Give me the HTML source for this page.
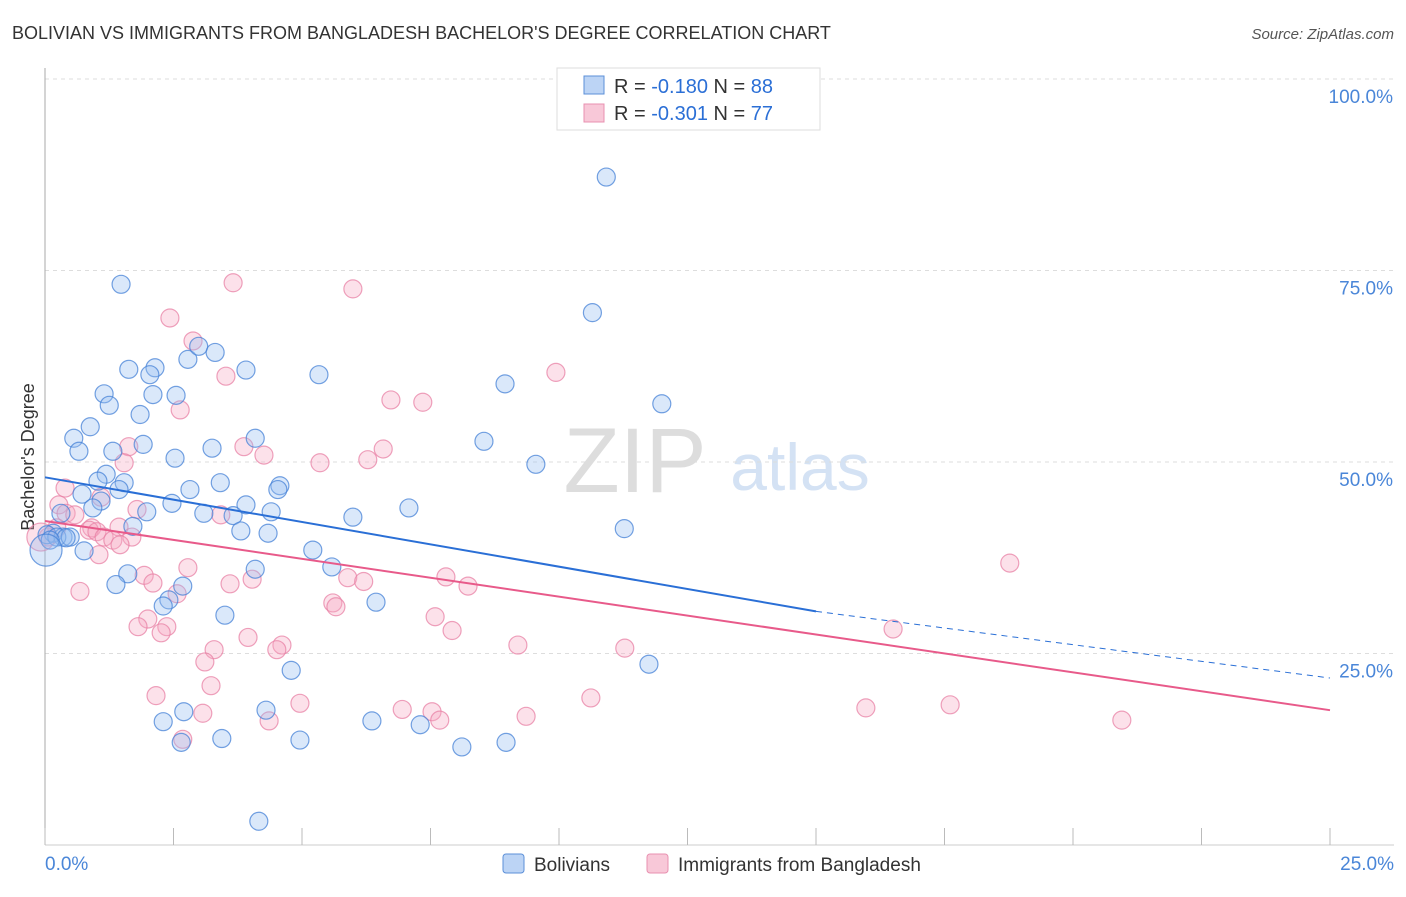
<!DOCTYPE html>
<html><head><meta charset="utf-8"><style>
body{margin:0;background:#fff;font-family:"Liberation Sans",sans-serif}
svg text{font-family:"Liberation Sans",sans-serif}
</style></head><body>
<svg id="c" width="1406" height="892">
<text x="12" y="39" font-size="18" fill="#333">BOLIVIAN VS IMMIGRANTS FROM BANGLADESH BACHELOR'S DEGREE CORRELATION CHART</text>
<text x="1394" y="39" font-size="15" fill="#555" font-style="italic" text-anchor="end">Source: ZipAtlas.com</text>
<text x="34" y="457" font-size="18" fill="#333" text-anchor="middle" transform="rotate(-90 34 457)">Bachelor's Degree</text>
<text x="635" y="492" font-size="92" fill="#ddd" font-family="Liberation Serif" text-anchor="middle">ZIP</text>
<text x="800" y="490" font-size="66" fill="#d4e2f4" text-anchor="middle">atlas</text>
<g id="grid"></g><g id="pts"></g><g id="trend"></g>
<g>
<rect x="557" y="68" width="263" height="62" fill="#fff" stroke="#ddd"/>
<rect x="584" y="76" width="20" height="18" fill="#bcd4f5" stroke="#5b8fd8"/>
<rect x="584" y="104" width="20" height="18" fill="#f8c8d8" stroke="#e890b0"/>
<text x="614" y="93" font-size="20" fill="#333">R = <tspan fill="#2b6fd6">-0.180</tspan>   N = <tspan fill="#2b6fd6">88</tspan></text>
<text x="614" y="120" font-size="20" fill="#333">R = <tspan fill="#2b6fd6">-0.301</tspan>   N = <tspan fill="#2b6fd6">77</tspan></text>
</g>
<g>
<rect x="503" y="854" width="21" height="19" rx="3" fill="#bcd4f5" stroke="#5b8fd8"/>
<text x="534" y="871" font-size="19" fill="#333">Bolivians</text>
<rect x="647" y="854" width="21" height="19" rx="3" fill="#f8c8d8" stroke="#e890b0"/>
<text x="678" y="871" font-size="19" fill="#333">Immigrants from Bangladesh</text>
</g>
</svg>
<script>
const xTickLabels=["0.0%","25.0%"];
const yTicks=[25,50,75,100];
const yTickLabels=["25.0%","50.0%","75.0%","100.0%"];
const bolX=[10.92,1.48,10.65,2.14,1.63,2.04,2.78,2.99,3.31,3.91,5.33,8.95,1.15,2.1,2.55,1.25,1.85,12.0,0.88,0.56,1.91,4.09,3.25,8.54,0.66,1.32,9.55,2.53,1.19,1.03,3.41,1.54,4.57,4.53,2.82,0.72,1.44,1.09,0.93,2.47,3.91,7.08,1.98,4.4,0.31,3.09,3.66,5.99,11.27,1.71,3.81,4.34,0.16,0.04,0.35,0.23,0.49,0.41,0.1,0.76,5.21,5.58,4.09,1.61,1.38,2.68,2.41,2.3,6.44,3.5,4.79,11.75,4.3,2.7,2.3,6.36,7.3,3.44,4.96,2.65,8.11,8.97,4.16,0.02];
const bolY=[87.2,73.2,69.5,62.3,62.1,61.4,63.4,65.1,64.3,62.0,61.4,60.2,58.9,58.8,58.7,57.4,56.2,57.6,54.6,53.1,52.3,53.1,51.8,52.7,51.4,51.4,49.7,50.5,48.4,47.5,47.3,47.3,46.9,46.4,46.4,45.8,46.4,44.9,44.0,44.6,44.4,44.0,43.5,43.5,43.3,43.3,43.0,42.8,41.3,41.6,41.0,40.7,40.7,40.5,40.2,40.2,40.2,40.1,39.8,38.4,38.5,36.3,36.0,35.4,34.0,33.8,32.0,31.2,31.7,30.0,22.8,23.6,17.6,17.4,16.1,16.2,15.7,13.9,13.7,13.4,12.8,13.4,3.1,38.5];
const banX=[3.66,5.99,2.43,2.88,3.52,2.63,6.73,7.35,9.94,1.63,3.87,6.58,4.26,5.35,6.28,1.54,0.39,1.09,0.27,1.79,0.41,0.58,3.42,0.91,1.44,0.86,1.01,0.23,1.69,1.15,1.32,1.46,0.06,1.05,1.93,2.78,2.1,3.6,4.03,5.89,6.2,7.8,8.23,0.68,5.6,5.66,2.57,2.0,1.81,2.37,2.26,3.95,7.59,7.92,4.61,4.51,3.29,3.11,9.2,11.28,18.77,16.5,3.23,2.16,10.62,4.96,6.95,7.53,3.07,7.68,9.36,4.36,15.97,17.61,20.95,2.68,-0.08];
const banY=[73.4,72.6,68.8,65.8,61.2,56.8,58.1,57.8,61.7,52.0,52.0,51.7,50.9,49.9,50.3,49.9,46.6,45.4,44.4,43.8,43.3,43.1,43.1,41.4,41.5,41.1,40.9,41.4,40.2,40.2,39.8,39.2,40.2,37.9,35.2,36.2,34.2,34.1,34.7,34.9,34.4,35.0,33.8,33.1,31.6,31.1,32.8,29.5,28.5,28.5,27.7,27.1,29.8,28.0,26.1,25.5,25.5,23.9,26.1,25.7,36.8,28.2,20.8,19.5,19.2,18.5,17.7,17.4,17.2,16.3,16.8,16.2,17.9,18.3,16.3,13.8,40.2];
const bolTrend=[48.0,30.5,21.8], banTrend=[42.3,17.6];
const X0=45,X1=1330,Y0=845,Y100=79;
const sx=v=>X0+v/25*(X1-X0), sy=v=>Y0-v/100*(Y0-Y100);
const NS="http://www.w3.org/2000/svg";
function mk(t,a,p){const e=document.createElementNS(NS,t);for(const k in a)e.setAttribute(k,a[k]);p.appendChild(e);return e;}
const g=document.getElementById('grid');
yTicks.forEach((t,i)=>{
 const l=mk('line',{x1:X0,x2:1394,y1:sy(t),y2:sy(t),stroke:'#ddd','stroke-dasharray':'4,4'},g);
 
 
 const tx=mk('text',{x:1393,y:sy(t)+24,'font-size':19,fill:'#4a86d8','text-anchor':'end'},g);
 tx.textContent=yTickLabels[i];
 
 
});
const ax=mk('line',{x1:X0,x2:X0,y1:68,y2:Y0,stroke:'#aaa'},g);


const bx=mk('line',{x1:X0,x2:1394,y1:Y0,y2:Y0,stroke:'#ccc'},g);


for(let i=0;i<=10;i++){const x=sx(i*2.5);const t=mk('line',{x1:x,x2:x,y1:828,y2:Y0,stroke:'#bbb'},g);
 
 }
[[0,'start',45],[25,'end',1394]].forEach((d,i)=>{const t=mk('text',{x:d[2],y:870,'font-size':19,fill:'#4a86d8','text-anchor':d[1]},g);t.textContent=xTickLabels[i];
 
 });
const p=document.getElementById('pts');
banX.forEach((x,i)=>{const big=i==banX.length-1;const c=mk('circle',{cx:sx(x),cy:sy(banY[i]),r:big?14:9,fill:'rgba(246,170,195,0.35)',stroke:'rgba(232,130,165,0.75)','stroke-width':1.2},p);
 
 });
bolX.forEach((x,i)=>{const big=i==bolX.length-1;const c=mk('circle',{cx:sx(x),cy:sy(bolY[i]),r:big?16:9,fill:'rgba(150,190,240,0.35)',stroke:'rgba(70,130,215,0.75)','stroke-width':1.2},p);
 
 });
const tr=document.getElementById('trend');
let l1=mk('line',{x1:sx(0),y1:sy(bolTrend[0]),x2:sx(15),y2:sy(bolTrend[1]),stroke:'#2a6fd6','stroke-width':2},tr);


let l2=mk('line',{x1:sx(15),y1:sy(bolTrend[1]),x2:sx(25),y2:sy(bolTrend[2]),stroke:'#2a6fd6','stroke-width':1,'stroke-dasharray':'6,5'},tr);


let l3=mk('line',{x1:sx(0),y1:sy(banTrend[0]),x2:sx(25),y2:sy(banTrend[1]),stroke:'#e85a8a','stroke-width':2},tr);


</script>
</body></html>
